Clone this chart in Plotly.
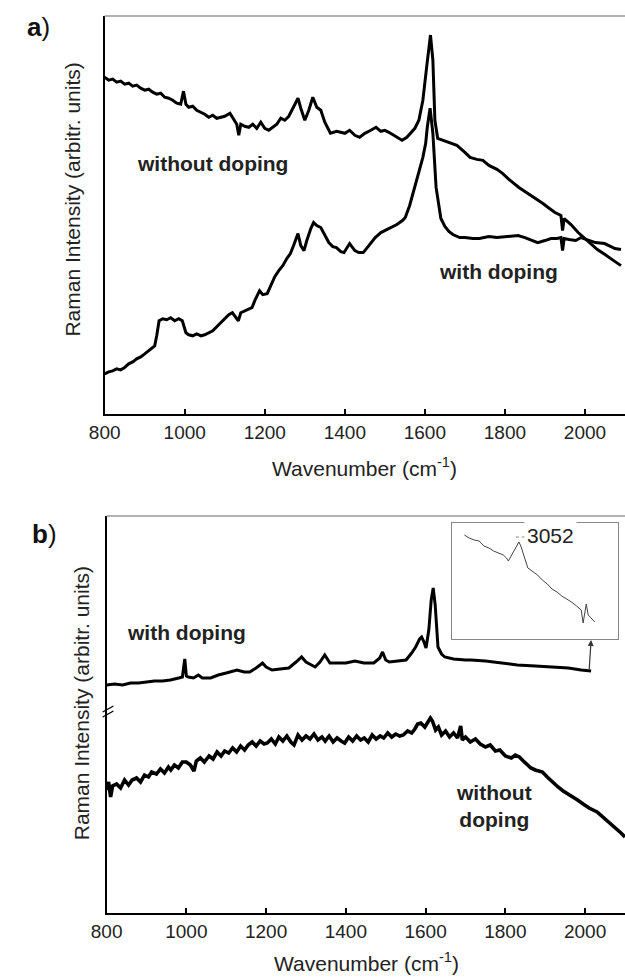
import plotly.graph_objects as go

# ---------------- Panel a data (wavenumber, intensity arb. units) ----------------
a_wo_x = [800, 810, 820, 830, 840, 850, 860, 870, 880, 890, 900, 910, 920, 930, 940, 950, 960, 970, 980, 990,
          997, 1003, 1010, 1020, 1030, 1040, 1050, 1060, 1070, 1080, 1090, 1100, 1113, 1120, 1130, 1135, 1140,
          1150, 1160, 1170, 1180, 1190, 1200, 1210, 1220, 1230, 1240, 1250, 1260, 1270, 1283, 1290, 1300, 1310,
          1320, 1330, 1340, 1350, 1364, 1380, 1400, 1412, 1425, 1437, 1450, 1465, 1478, 1490, 1500, 1510, 1525,
          1543, 1555, 1565, 1575, 1585, 1595, 1605, 1614, 1620, 1625, 1632, 1645, 1660, 1680, 1700, 1713, 1730,
          1745, 1760, 1780, 1794, 1810, 1835, 1850, 1874, 1895, 1908, 1925, 1940, 1944, 1948, 1965, 1983, 2000,
          2015, 2031, 2050, 2066, 2079, 2090]
a_wo_y = [336, 333, 334, 331, 332, 329, 330, 327, 328, 325, 323, 324, 321, 319, 320, 316, 315, 313, 310, 309,
          322, 309, 306, 307, 303, 301, 299, 296, 298, 295, 296, 297, 300, 296, 289, 278, 289,
          287, 286, 289, 285, 291, 285, 283, 286, 289, 295, 293, 297, 305, 315, 305, 293, 303,
          316, 306, 303, 291, 280, 282, 280, 283, 278, 276, 280, 283, 286, 282, 283, 281, 277,
          273, 276, 280, 285, 293, 313, 348, 378, 353, 293, 275, 273, 271, 268, 261, 256, 254,
          253, 248, 244, 240, 234, 226, 222, 216, 210, 206, 201, 198, 183, 195, 189, 181, 175,
          170, 164, 159, 155, 151, 148]

a_w_x = [800, 810, 820, 830, 840, 849, 860, 870, 880, 890, 900, 910, 917, 925, 930, 936, 945, 955, 965, 975,
         985, 994, 1000, 1003, 1010, 1020, 1030, 1041, 1050, 1060, 1070, 1080, 1090, 1100, 1110, 1119, 1125,
         1134, 1140, 1150, 1160, 1168, 1175, 1187, 1195, 1206, 1215, 1225, 1235, 1245, 1255, 1264, 1272, 1283,
         1290, 1298, 1305, 1315, 1322, 1330, 1340, 1350, 1360, 1370, 1379, 1390, 1398, 1412, 1425, 1435, 1446,
         1460, 1476, 1490, 1500, 1515, 1530, 1544, 1551, 1562, 1575, 1585, 1595, 1602, 1606, 1613, 1620, 1628,
         1634, 1640, 1650, 1660, 1670, 1687, 1700, 1720, 1736, 1760, 1780, 1800, 1833, 1850, 1865, 1882, 1900,
         1915, 1930, 1940, 1944, 1948, 1960, 1977, 1990, 2010, 2026, 2049, 2075, 2090]
a_w_y = [40, 42, 43, 45, 44, 46, 50, 52, 55, 57, 60, 63, 65, 68, 78, 93, 95, 94, 96, 93,
         95, 93, 85, 81, 79, 78, 80, 78, 79, 81, 83, 87, 91, 95, 99, 101, 98,
         93, 101, 103, 105, 106, 113, 123, 119, 120, 128, 137, 143, 148, 155, 160, 168, 180,
         168, 163, 173, 185, 191, 188, 186, 178, 171, 167, 166, 162, 161, 170, 163, 161, 161,
         168, 176, 181, 183, 186, 189, 193, 196, 208, 226, 241, 256, 270, 286, 305, 280, 226,
         208, 195, 187, 182, 179, 176, 176, 175, 175, 177, 176, 177, 178, 176, 174, 171, 173,
         175, 175, 176, 163, 175, 174, 173, 176, 173, 171, 170, 165, 164]

# ---------------- Panel b data ----------------
b_w_x = [800, 820, 840, 860, 880, 898, 920, 940, 960, 981, 990, 996, 1000, 1005, 1018, 1030, 1040, 1061, 1080,
         1100, 1127, 1145, 1159, 1175, 1191, 1200, 1215, 1235, 1257, 1275, 1289, 1300, 1323, 1335, 1347, 1360,
         1372, 1400, 1423, 1445, 1470, 1485, 1492, 1500, 1509, 1530, 1551, 1565, 1575, 1585, 1590, 1596, 1601,
         1608, 1614, 1619, 1624, 1631, 1640, 1648, 1670, 1700, 1714, 1750, 1795, 1830, 1875, 1920, 1958, 1990,
         2015]
b_w_y = [228, 229, 228, 230, 230, 231, 232, 232, 233, 235, 236, 254, 237, 236, 235, 238, 235, 235, 238,
         240, 243, 241, 241, 245, 250, 246, 243, 244, 245, 251, 256, 251, 246, 251, 258, 250,
         250, 250, 252, 250, 250, 255, 261, 253, 251, 252, 253, 260, 266, 274, 276, 271, 265,
         283, 313, 325, 308, 266, 259, 256, 254, 253, 253, 252, 250, 248, 247, 246, 245, 243,
         242]

b_wo_x = [800, 805, 810, 815, 825, 835, 845, 855, 864, 875, 885, 895, 905, 913, 925, 935, 945, 955, 961, 970,
          980, 990, 1000, 1010, 1019, 1025, 1035, 1045, 1057, 1067, 1077, 1087, 1096, 1106, 1116, 1126, 1136,
          1146, 1155, 1165, 1175, 1185, 1195, 1203, 1213, 1223, 1232, 1242, 1252, 1262, 1270, 1280, 1290, 1300,
          1310, 1320, 1330, 1340, 1348, 1358, 1368, 1378, 1388, 1397, 1407, 1417, 1427, 1437, 1446, 1456, 1466,
          1476, 1486, 1495, 1505, 1515, 1525, 1535, 1544, 1555, 1565, 1573, 1580, 1588, 1598, 1605, 1612, 1617,
          1625, 1632, 1640, 1650, 1660, 1670, 1680, 1688, 1692, 1700, 1712, 1725, 1737, 1750, 1762, 1775, 1786,
          1800, 1815, 1825, 1835, 1845, 1855, 1864, 1875, 1893, 1905, 1918, 1932, 1945, 1958, 1970, 1981, 1995,
          2010, 2030, 2045, 2060, 2079, 2090, 2100]
b_wo_y = [123, 131, 116, 127, 129, 125, 133, 128, 133, 135, 131, 138, 136, 141, 139, 144, 140, 146, 143, 148,
          145, 151, 151, 148, 142, 152, 155, 151, 157, 154, 161, 157, 162, 160, 165, 161, 167,
          163, 168, 171, 167, 172, 169, 170, 174, 169, 176, 172, 177, 171, 168, 178, 173, 177,
          174, 179, 173, 176, 172, 177, 171, 175, 172, 170, 176, 172, 177, 173, 175, 171, 178,
          174, 177, 175, 180, 176, 179, 177, 178, 182, 180, 184, 189, 190, 186, 191, 195, 192,
          183, 186, 178, 182, 176, 180, 175, 187, 173, 176, 171, 174, 169, 166, 168, 162, 163,
          157, 155, 158, 156, 152, 148, 145, 143, 141, 136, 131, 126, 122, 119, 116, 113, 109,
          105, 101, 96, 91, 84, 80, 76]

# inset spectrum (around 3052 cm-1)
ins_x = [2912, 2924, 2937, 2950, 2962, 2975, 2987, 3000, 3012, 3020, 3025, 3032, 3042, 3052, 3057, 3062, 3070,
         3075, 3087, 3100, 3112, 3125, 3137, 3150, 3162, 3175, 3187, 3200, 3212, 3217, 3222, 3225, 3230, 3237,
         3247]
ins_y = [104, 101, 99, 98, 93, 91, 88, 86, 84, 81, 78, 83, 90, 97, 93, 86, 77,
         71, 68, 64, 59, 55, 50, 47, 43, 40, 37, 33, 29, 16, 28, 35, 24, 21,
         17]

x_ticks = [800, 1000, 1200, 1400, 1600, 1800, 2000]

FONT = "Liberation Sans, Arial, sans-serif"
W, H = 625, 977

fig = go.Figure()
line_style = dict(color="black", width=3)
fig.add_trace(go.Scatter(x=a_wo_x, y=a_wo_y, mode="lines", line=line_style, xaxis="x", yaxis="y", showlegend=False))
fig.add_trace(go.Scatter(x=a_w_x, y=a_w_y, mode="lines", line=line_style, xaxis="x", yaxis="y", showlegend=False))
fig.add_trace(go.Scatter(x=b_w_x, y=b_w_y, mode="lines", line=line_style, xaxis="x2", yaxis="y2", showlegend=False))
fig.add_trace(go.Scatter(x=b_wo_x, y=b_wo_y, mode="lines", line=dict(color="black", width=3.6), xaxis="x2",
                         yaxis="y2", showlegend=False))
fig.add_trace(go.Scatter(x=ins_x, y=ins_y, mode="lines", line=dict(color="#444", width=1), xaxis="x3", yaxis="y3",
                         showlegend=False))

def px_x(p):
    return p / W

def px_y(p):
    return 1 - p / H

xaxis_common = dict(range=[800, 2100], tickvals=x_ticks, ticks="inside", ticklen=5, tickwidth=1.5,
                    tickcolor="black", showline=True, linecolor="black", linewidth=2, showgrid=False,
                    zeroline=False, tickfont=dict(family=FONT, size=19, color="#222"))
yaxis_common = dict(range=[0, 397], showticklabels=False, ticks="", showline=True, linecolor="black",
                    linewidth=2, showgrid=False, zeroline=False)

fig.update_layout(
    width=W, height=H, margin=dict(l=0, r=0, t=0, b=0),
    plot_bgcolor="white", paper_bgcolor="white",
    xaxis=dict(domain=[px_x(91), 1.0], anchor="y", **xaxis_common),
    yaxis=dict(domain=[px_y(414), px_y(16)], anchor="x", **yaxis_common),
    xaxis2=dict(domain=[px_x(93), 1.0], anchor="y2", **xaxis_common),
    yaxis2=dict(domain=[px_y(913), px_y(516)], anchor="x2", **yaxis_common),
    xaxis3=dict(domain=[px_x(447), px_x(618)], anchor="y3", range=[2879, 3307], showticklabels=False,
                ticks="", showline=True, mirror=True, linecolor="#888", linewidth=1.2, showgrid=False,
                zeroline=False),
    yaxis3=dict(domain=[px_y(639), px_y(523)], anchor="x3", range=[0, 116], showticklabels=False,
                ticks="", showline=True, mirror=True, linecolor="#888", linewidth=1.2, showgrid=False,
                zeroline=False),
)

shapes = []
# gray top frame lines
for xr, yr in (("x domain", "y domain"), ("x2 domain", "y2 domain")):
    shapes.append(dict(type="line", xref=xr, yref=yr, x0=0, x1=1, y0=1, y1=1, line=dict(color="#999", width=1.5)))
# axis break marks on panel b y axis
for dy in (0, 5):
    shapes.append(dict(type="line", xref="paper", yref="paper", x0=px_x(89), x1=px_x(100),
                       y0=px_y(712 + dy), y1=px_y(706 + dy), line=dict(color="black", width=1.3)))
# dotted leader to 3052 label
shapes.append(dict(type="line", xref="paper", yref="paper", x0=px_x(513), x1=px_x(522), y0=px_y(537), y1=px_y(537),
                   line=dict(color="#888", width=1.2, dash="dot")))
fig.update_layout(shapes=shapes)

ann = []
bold = dict(family=FONT, size=21, color="#222")

def label(text, x, y, font, **kw):
    d = dict(text=text, xref="paper", yref="paper", x=px_x(x), y=px_y(y), xanchor="center", yanchor="middle",
             showarrow=False, font=font)
    d.update(kw)
    ann.append(d)

label("<b>a</b>)", 23, 27, dict(family=FONT, size=26, color="#111"))
label("<b>b</b>)", 29, 534, dict(family=FONT, size=26, color="#111"))
label("<b>without doping</b>", 202, 163, bold)
label("<b>with doping</b>", 495, 271, bold)
label("<b>with doping</b>", 175, 632, bold)
label("<b>without</b><br><b>doping</b>", 491, 806, bold)
label("Raman Intensity (arbitr. units)", 57, 200, dict(family=FONT, size=21, color="#222"), textangle=-90)
label("Raman Intensity (arbitr. units)", 67, 703, dict(family=FONT, size=21, color="#222"), textangle=-90)
label("Wavenumber (cm<sup>-1</sup>)", 358, 467, dict(family=FONT, size=21, color="#222"))
label("Wavenumber (cm<sup>-1</sup>)", 360, 962, dict(family=FONT, size=21, color="#222"))
label("3052", 549, 535, dict(family=FONT, size=21, color="#222"), bgcolor="white", borderpad=2)
ann.append(dict(text="", x=2015, y=273, xref="x2", yref="y2", ax=2010, ay=242, axref="x2", ayref="y2",
                showarrow=True, arrowhead=2, arrowsize=1, arrowwidth=1.2, arrowcolor="#333"))
fig.update_layout(annotations=ann)

fig.write_html("out.html", config={"displayModeBar": False},
               post_script="document.body.style.margin='0';document.body.style.overflow='hidden';")
